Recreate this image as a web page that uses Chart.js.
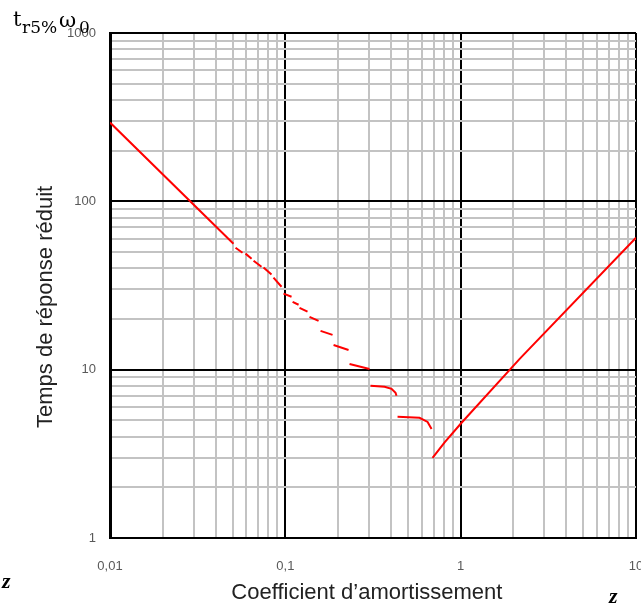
<!DOCTYPE html>
<html>
<head>
<meta charset="utf-8">
<script src="https://cdn.jsdelivr.net/npm/chart.js@4.4.0/dist/chart.umd.min.js"></script>
<style>
    html, body { margin: 0; padding: 0; background: #fff; overflow: hidden; }
    #wrap { width: 641px; height: 606px; }
</style>
</head>
<body>
<div id="wrap"><canvas id="chart" width="641" height="606"></canvas></div>
<script>
// damping ratio z and reduced 5% response time, null = break between pieces
const dampingRatio = [
    0.01, 0.0506, null,
    0.052, 0.057, null,
    0.0593, 0.0642, null,
    0.0659, 0.0731, null,
    0.0751, 0.0834, null,
    0.0856, 0.0951, null,
    0.0976, 0.1085, null,
    0.110, 0.119, null,
    0.1205, 0.1338, null,
    0.1374, 0.1547, null,
    0.1588, 0.1859, null,
    0.1884, 0.2294, null,
    0.2324, 0.3021, null,
    0.3062, 0.368, 0.4035, 0.4251, 0.4307, null,
    0.4365, 0.5828, 0.6476, 0.6823, null,
    0.691, 0.81, 1.0, 2.17, 10
];
const responseTime = [
    294, 56.0, null,
    53.0, 49.5, null,
    48.9, 45.6, null,
    44.4, 40.9, null,
    40.4, 36.7, null,
    35.2, 31.1, null,
    28.3, 27.1, null,
    25.3, 24.3, null,
    23.3, 22.1, null,
    20.6, 19.5, null,
    17.0, 16.1, null,
    14.0, 13.1, null,
    10.8, 10.1, null,
    8.02, 7.92, 7.70, 7.29, 7.00, null,
    5.25, 5.18, 4.89, 4.44, null,
    2.99, 3.70, 4.77, 11.6, 60.8
];

const xDecades = [0.01, 0.1, 1, 10];
const xTickLabels = ['0,01', '0,1', '1', '10'];
const yDecades = [1, 10, 100, 1000];
const yTickLabels = ['1', '10', '100', '1000'];
const minorSteps = [1, 2, 3, 4, 5, 6, 7, 8, 9];

const sansFont = '"Liberation Sans", Arial, sans-serif';

function buildTicks(decades) {
    const ticks = [];
    decades.forEach((d, i) => {
        if (i === decades.length - 1) {
            ticks.push({ value: d, major: true });
            return;
        }
        minorSteps.forEach(m => {
            ticks.push({ value: Number((d * m).toPrecision(6)), major: m === 1 });
        });
    });
    return ticks;
}

function isDecade(v) {
    const l = Math.log10(v);
    return Math.abs(l - Math.round(l)) < 1e-6;
}

function labelFor(value, decades, labels) {
    const i = decades.findIndex(d => Math.abs(d - value) / d < 1e-6);
    return i >= 0 ? labels[i] : '';
}

const gridColor = ctx => (ctx.tick && isDecade(ctx.tick.value)) ? '#000000' : '#c3c3c3';

// axis symbols written on the canvas corners
const symbolLabels = {
    id: 'symbolLabels',
    afterDraw(chart) {
        const c = chart.ctx;
        c.save();
        c.fillStyle = '#000';
        c.textBaseline = 'alphabetic';
        c.textAlign = 'left';
        c.font = '21px "DejaVu Serif", serif';
        c.fillText('t', 13, 26);
        c.fillText('\u03c9', 59, 27);
        c.font = '17px "DejaVu Serif", serif';
        c.fillText('r5%', 22, 33);
        c.fillText('0', 79, 33);
        c.font = 'bold italic 22px "Liberation Serif", serif';
        c.fillText('z', 2, 588);
        c.fillText('z', 609, 603);
        c.restore();
    }
};

const points = dampingRatio.map((z, i) => ({ x: z, y: responseTime[i] }));

// trailing blanks nudge the centred titles like in the original figure
const pad = n => '\u00a0'.repeat(n);

new Chart(document.getElementById('chart'), {
    type: 'scatter',
    data: {
        datasets: [{
            data: points,
            showLine: true,
            spanGaps: false,
            borderColor: '#ff0000',
            backgroundColor: '#ff0000',
            borderWidth: 2,
            pointRadius: 0,
            tension: 0
        }]
    },
    options: {
        responsive: false,
        animation: false,
        layout: {
            autoPadding: false,
            padding: { top: 33, right: 5, bottom: 0, left: 0 }
        },
        plugins: {
            legend: { display: false },
            tooltip: { enabled: false }
        },
        scales: {
            x: {
                type: 'logarithmic',
                position: 'bottom',
                min: 0.01,
                max: 10,
                afterBuildTicks: s => { s.ticks = buildTicks(xDecades); },
                afterFit: s => { s.height = 68; s.paddingLeft = 0; s.paddingRight = 0; },
                grid: { color: gridColor, lineWidth: 2, drawTicks: false },
                border: { color: '#000', width: 2 },
                ticks: {
                    autoSkip: false,
                    maxRotation: 0,
                    padding: 21,
                    color: '#595959',
                    font: { family: sansFont, size: 13 },
                    callback: v => labelFor(v, xDecades, xTickLabels)
                },
                title: {
                    display: true,
                    text: 'Coefficient d\u2019amortissement' + pad(2),
                    color: '#222',
                    font: { family: sansFont, size: 22 },
                    padding: { top: 0, bottom: 0 }
                }
            },
            y: {
                type: 'logarithmic',
                position: 'left',
                min: 1,
                max: 1000,
                afterBuildTicks: s => { s.ticks = buildTicks(yDecades); },
                afterFit: s => { s.width = 110; s.paddingTop = 0; s.paddingBottom = 0; },
                grid: { color: gridColor, lineWidth: 2, drawTicks: false },
                border: { color: '#000', width: 3 },
                ticks: {
                    autoSkip: false,
                    padding: 14,
                    color: '#595959',
                    font: { family: sansFont, size: 13 },
                    callback: v => labelFor(v, yDecades, yTickLabels)
                },
                title: {
                    display: true,
                    text: 'Temps de r\u00e9ponse r\u00e9duit' + pad(7),
                    color: '#222',
                    font: { family: sansFont, size: 22 },
                    padding: { top: 33, bottom: 0 }
                }
            }
        }
    },
    plugins: [symbolLabels]
});
</script>
</body>
</html>
